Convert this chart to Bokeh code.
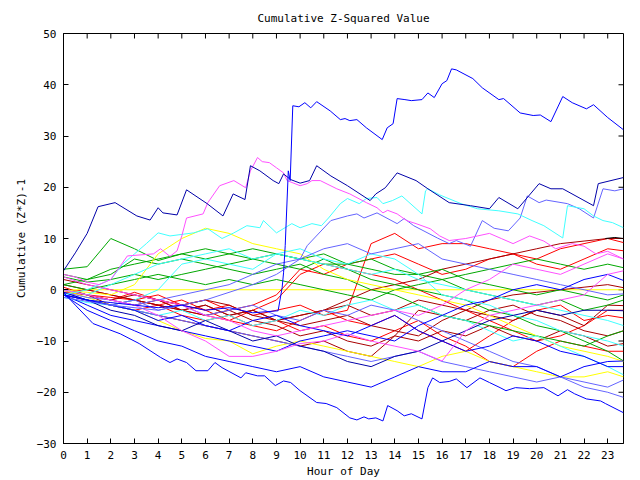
from bokeh.plotting import figure
from bokeh.models import Range1d, FixedTicker, LinearAxis
from bokeh.embed import file_html
from bokeh.resources import INLINE

TITLE = "Cumulative Z-Squared Value"
XLABEL = "Hour of Day"
YLABEL = "Cumulative (Z*Z)-1"
x_ticks = list(range(0, 24))
y_ticks = [-30, -20, -10, 0, 10, 20, 30, 40, 50]
X_MAX = 23.667
Y_MIN, Y_MAX = -30, 50

BLUE = "#0000ff"; NAVY = "#0000a8"; SLATE = "#6464ff"; MAG = "#ff50ff"
CYAN = "#40ffff"; GREEN = "#00a800"; YEL = "#ffff00"; RED = "#ff0000"
DRED = "#a80000"; BLACK = "#000000"

H = [0, 1, 2, 3, 4, 5, 6, 7, 8, 9, 10, 11, 12, 13, 14, 15, 16, 17, 18, 19, 20, 21, 22, 23, 23.67]

# big climbing line
a_h = [0, 1, 2, 3, 4, 5, 6, 7, 8, 9.07, 9.24, 9.3, 9.37, 9.5, 9.58, 9.69, 9.95, 10.2, 10.45, 10.7, 11.27, 11.7,
       11.9, 12.1, 12.4, 12.8, 13.47, 13.68, 13.93, 14.1, 14.43, 14.7, 15.15, 15.4, 15.67, 16.0, 16.2, 16.4, 16.6,
       17.3, 17.7, 18.4, 18.6, 19.3, 19.85, 20.15, 20.6, 21.1, 21.5, 22.1, 22.4, 23.0, 23.67]
a_v = [-1, -2, -2.5, -3, -3.5, -3, -4, -3.5, -4.5, -4.1, 0.4, 3.3, 8.6, 23.2, 21.3, 35.9, 35.7, 36.5, 35.5, 36.7, 34.9,
       33.2, 33.4, 33, 33.2, 31.6, 29.3, 31.6, 32.4, 37.3, 37.1, 36.9, 37.1, 38.4, 37.5, 40.2, 40.8, 43.1, 42.9,
       41.2, 39.4, 37.1, 37.3, 34.5, 34, 34.1, 32.8, 37.7, 36.5, 35.3, 36.1, 33.6, 31.2]

b_h = [0, 0.5, 1, 1.46, 2.18, 3.1, 3.66, 4.0, 4.2, 4.8, 5.2, 6.07, 6.74, 7.17, 7.67, 7.9, 8.3, 8.86, 9.1, 9.3, 9.6,
       10.0, 10.4, 10.7, 11.3, 12, 12.96, 13.2, 13.6, 14.1, 14.9, 15.4, 16.3, 17.2, 18, 18.4, 19.2, 20.1, 20.6, 21.1,
       22.4, 22.6, 23.67]
b_v = [3.7, 7.2, 11, 16.2, 17, 14.4, 13.6, 16, 15, 14.6, 19.5, 16.8, 14.4, 18.7, 17.6, 24.2, 23.2, 21.3, 20.7, 22.6,
       21.5, 20.8, 21.3, 24.2, 22.2, 20.3, 17.4, 18.7, 19.9, 22.8, 21.3, 19.7, 17, 16.4, 15.8, 18, 15.8, 20.7, 19.7,
       19.7, 16.4, 20.7, 21.9]

m1_h = [0, 0.5, 1, 1.5, 2, 2.7, 3.8, 4.1, 4.5, 4.8, 5.0, 5.2, 5.9, 6.1, 6.6, 7.2, 7.7, 7.9, 8.2, 8.4, 8.7, 9.0, 9.3,
        9.45, 10.0, 10.3, 10.5, 10.85, 11.55, 12.1, 12.8, 13.25, 13.5, 13.7, 14.1, 14.5, 14.9, 15.5, 15.9, 16.3, 17,
        18, 18.5, 19, 19.7, 20.3, 20.8, 21.5, 22, 22.5, 23, 23.67]
m1_v = [3, 2.5, 1.5, 1, 2, 6.6, 7, 8, 6.5, 7.6, 10.5, 14, 14.8, 17, 20.3, 21.3, 19.9, 23.2, 25.8, 25, 24.8, 23.8, 22.8,
        21.3, 20.3, 20.7, 21.3, 21.3, 19.7, 18.7, 17, 16, 15, 15.5, 14.8, 13.5, 12.9, 11.9, 10.5, 9.6, 10, 11, 10,
        9, 10.5, 9.5, 8, 9, 8.5, 7, 7.5, 6]

c1_h = [0, 1, 2, 2.5, 3.0, 3.5, 4.0, 4.5, 5.5, 6.1, 6.7, 7.2, 7.75, 8.3, 8.45, 9.0, 9.65, 10, 10.5, 10.9, 11.2, 11.7,
        12.0, 12.5, 12.8, 13.25, 13.5, 13.9, 14.3, 15.15, 15.3, 15.4, 15.9, 16.8, 17.5, 18.4, 19.2, 19.8, 20.3, 21.1,
        21.3, 22.0, 22.4, 22.8, 23.2, 23.67]
c1_v = [-1, 0, 2, 5, 7, 9, 11.1, 10.5, 11.1, 11.9, 10, 11.1, 12.5, 12.1, 13.5, 11.1, 12.9, 12.1, 12.9, 12.5, 14, 16.8,
        17.8, 16.8, 17.8, 18, 16.8, 17.4, 18.3, 14.8, 19.3, 19.7, 18.5, 16.8, 15.8, 15.4, 14.8, 13.5, 12.5, 10.1,
        16.4, 15.8, 14.4, 13.5, 13.1, 12.1]

s1_h = [0, 2, 4, 6, 8, 9, 10, 10.3, 11.3, 12.0, 12.4, 12.7, 13.25, 14.1, 14.4, 14.8, 15.8, 16.3, 16.6, 17.2, 17.7,
        18.2, 18.8, 19.3, 19.6, 20.1, 20.4, 21.3, 21.8, 22.4, 22.8, 23.3, 23.67]
s1_v = [-1.5, -3, -4, -2, 1, 3, 6, 8.6, 13.5, 14.4, 14.8, 14, 15, 12.9, 13.9, 12.5, 10.1, 9, 9.6, 8.5, 13.5, 12, 11.5,
        14, 18.3, 17, 17.5, 16.8, 15.8, 14, 19.7, 19.3, 19.7]

l1_h = [0, 0.5, 1.25, 2.4, 3.2, 4.1, 4.5, 4.8, 5.2, 5.6, 6.1, 6.4, 6.7, 7.5, 7.7, 8.2, 8.5, 8.95, 9.3, 9.6, 10.0, 10.7,
        11.1, 11.55, 12.1, 12.4, 12.7, 12.9, 13.2, 13.5, 13.7, 14.1, 14.4, 14.7, 15.15, 15.4, 15.6, 15.9, 16.3, 16.6,
        17.05, 17.6, 18.0, 18.45, 18.7, 19.1, 19.7, 20.3, 20.9, 21.3, 21.6, 22.1, 22.7, 22.9, 23.67]
l1_v = [-0.5, -3, -6.6, -8.6, -10.5, -13.2, -14.2, -13.5, -14.2, -15.8, -15.8, -14.2, -15.2, -17.2, -16.2, -16.8,
        -16.8, -18.7, -17.8, -18.1, -19.7, -22, -22.2, -23, -25, -25.4, -24.8, -25.2, -25, -25.6, -22.6, -23.6, -24.6,
        -24.2, -25.2, -19.1, -17.2, -18.1, -17.9, -17.4, -19.1, -17.2, -18.1, -19.1, -19.7, -19.1, -19.3, -19.1, -20.7,
        -19.5, -20.3, -21.3, -21.7, -22.2, -24]

# middle bundle, hourly values at H
r_a = [-0.5, -1, -1.5, -2, -1, -3, -4, -3, -5, -4, -3, -5, -4, 9, 11, 8, 9, 9, 8, 7, 6, 8, 9, 10, 9.2]
r_b = [0, -1, -2, -0.5, -2, -3, -2, -4, -3, -1, 4, 3, 5, 6, 7, 5, 3, 4, 6, 7, 5, 4, 6, 8, 7.6]
r_c = [-1, -2, -3, -4, -3, -5, -6, -5, -7, -8, -6, -4, -6, -7, -5, -8, -10, -12, -9, -6, -4, -3, -6, -5, -5.5]
r_d = [-0.5, 0, -1, -2, -3, -2, -4, -6, -7, -6, -8, -7, -9, -10, -8, -6, -9, -11, -14, -15, -12, -10, -11, -12, -12]
r_e = [0.5, -1, -2, -3, -2, -4, -5, -6, -4, -2, 3, 5, 4, 3, 2, 0, -2, -4, -6, -8, -10, -9, -7, -4, -4]
dr_a = [2, 1, 0, -1, -2, -3, -2, -3, -5, -6, -7, -6, -5, -7, -8, -9, -6, -4, -2, -1, -0.5, 0, 0.5, 1, 0.4]
dr_b = [1, 0, -1, -2, -3, -4, -5, -4, -6, -7, -9, -8, -10, -11, -9, -10, -8, -9, -7, -9, -10, -8, -9, -11, -10.5]
dr_c = [0, -1, -2, -1, -2, -4, -3, -5, -4, -6, -5, -4, -3, -5, -4, -2, -3, -4, -5, -6, -4, -5, -7, -3, -3.1]
dr_d = [0, -1, -3, -4, -5, -6, -7, -8, -9, -10, -11, -10, -12, -13, -9, -4, -5, -6, -4, -3, -5, -6, -8, -9, -8]
dr_e = [-1, -2, -3, -2, -3, -4, -3, -5, -4, -6, -5, -4, -2, 0, 1, 2, 4, 5, 6, 7, 8, 9, 9.5, 10, 10]
g_a = [4, 4.5, 10, 8, 5.7, 7, 8, 7, 6, 7, 6, 5, 5, 4, 3, 3, 2, 0, -1, -2, -3, -2, -4, -3, -2]
g_b = [2.5, 1.5, 2, 3, 2, 3, 4, 5, 6, 5, 4, 6, 4, 2, 1, 0, -1, -2, -4, -5, -7, -8, -10, -12, -13.9]
g_c = [1, 0, 1, 2, 3, 2, 1, 2, 1, 2, 1, 0, -1, -2, 0, 1, 2, 3, 4, 5, 6, 5, 4, 5, 4.3]
g_d = [3, 2, 3, 6, 5, 6, 5, 4, 3, 4, 5, 3, 2, 0, -1, -3, -5, -6, -7, -8, -9, -10, -11, -9, -8]
g_e = [1, 2, 4, 5, 6, 7, 6, 7, 8, 7, 6, 7, 5, 6, 4, 3, 4, 2, 1, 0, -1, 0, -1, -2, -1]
y_a = [0, -0.5, -1, 1, 7, 10, 12, 11, 9, 8, 7, 4, 2, 1, 0, -1, -2, -3, -5, -7, -9, -11, -12, -13, -14]
y_b = [0, -1.5, -3, -4, -6, -8, -9.5, -10, -12.5, -11, -10, -11, -12, -13, -14, -15, -13, -12, -14, -15, -16, -17, -17, -16, -17]
c_a = [-1, -2, -3, -4, -5, -4, -6, -5, -7, -6, -4, -5, -3, -2, -4, -3, -5, -6, -8, -10, -9, -11, -13, -15, -16.6]
c_b = [-1.5, -2.5, -3, -2, 0, 5, 6, 5, 4, 7, 8, 6, 5, 7, 6, 3, -1, -2, -3, -5, -6, -8, -9, -10, -11]
c_c = [0, -1, 1, 3, 5, 6, 7, 8, 6, 7, 6, 5, 4, 3, 4, 2, 1, 0, -1, -2, -3, -4, -5, -6, -7]
s_a = [-1, -2, -3, -2, -4, -3, -5, -4, -3, -5, -6, -4, -5, -3, -4, -6, -8, -10, -12, -14, -15, -17, -18, -19, -17.6]
s_b = [-0.5, -1.5, -2, -3, -2, -1, 0, 1, 3, 5, 6, 8, 9, 7, 8, 9, 6, 5, 4, 3, 2, 1, 0, -1, -0.8]
s_c = [-0.5, -2, -3, -4, -5, -6, -7, -8, -9, -10, -11, -12, -13, -14, -13, -12, -14, -15, -16, -17, -18, -17, -19, -20, -21]
bl_a = [-1, -3, -5, -6, -7, -8, -9, -10, -11, -12, -10, -9, -8, -9, -10, -7, -5, -3, -2, 0, 1, 0, 2, 3, 1.8]
bl_b = [-1, -4, -6, -8, -10, -11, -13, -14, -15, -16, -15, -17, -18, -19, -17, -15, -16, -16, -14, -15, -15, -17, -15, -14, -13.9]
bl_c = [-0.5, -2, -4, -5, -7, -8, -6, -8, -10, -9, -11, -12, -14, -15, -13, -12, -10, -8, -6, -5, -4, -5, -4, -4, -4.1]
bl_d = [-1, -2, -3, -4, -6, -5, -7, -8, -6, -5, -7, -8, -9, -7, -5, -8, -10, -12, -11, -9, -10, -12, -13, -15, -15]
m_b = [0, -1, -2, -3, -5, -8, -10, -13, -13, -12, -10.5, -10, -8.6, -10, -11, -12, -13.9, -8, -5, -4, -3, -2, -1, 3, 3.7]
m_c = [2.5, 1, 0, -1, -2, -3, -5, -6, -8, -9, -8, -7, -6, -5, -4, -5, -3, 0, 2, 5, 4, 3, 5, 7, 6]
k_h = [22.9, 23.3, 23.67]
k_v = [10, 10.2, 10]

series = [
    (RED, H, r_a), (RED, H, r_b), (RED, H, r_c), (RED, H, r_d), (RED, H, r_e),
    (DRED, H, dr_a), (DRED, H, dr_b), (DRED, H, dr_c), (DRED, H, dr_d), (DRED, H, dr_e),
    (GREEN, H, g_a), (GREEN, H, g_b), (GREEN, H, g_c), (GREEN, H, g_d), (GREEN, H, g_e),
    (YEL, H, y_a), (YEL, H, y_b),
    (CYAN, H, c_a), (CYAN, H, c_b), (CYAN, H, c_c),
    (SLATE, H, s_a), (SLATE, H, s_b), (SLATE, H, s_c),
    (BLUE, H, bl_a), (BLUE, H, bl_b), (NAVY, H, bl_c), (BLUE, H, bl_d),
    (MAG, H, m_b), (MAG, H, m_c), (BLACK, k_h, k_v),
    (SLATE, s1_h, s1_v), (CYAN, c1_h, c1_v), (MAG, m1_h, m1_v),
    (NAVY, b_h, b_v), (BLUE, l1_h, l1_v), (BLUE, a_h, a_v),
]

FONT = "DejaVu Sans Mono"
FS = "11px"

p = figure(width=640, height=480, x_range=Range1d(0, X_MAX), y_range=Range1d(Y_MIN, Y_MAX),
           output_backend="svg", toolbar_location=None,
           min_border_left=63, min_border_right=17, min_border_top=33, min_border_bottom=37,
           x_axis_type=None, y_axis_type=None)
p.background_fill_color = "white"
p.border_fill_color = "white"
p.outline_line_color = "black"
p.outline_line_width = 1
p.grid.visible = False

p.title.text = TITLE
p.title.align = "center"
p.title.text_font = FONT
p.title.text_font_size = FS
p.title.text_font_style = "normal"
p.title.text_color = "black"
p.title.standoff = 17


def mk_axis(ticks, label):
    ax = LinearAxis(ticker=FixedTicker(ticks=ticks), axis_label=label)
    ax.major_tick_in = 5
    ax.major_tick_out = 0
    ax.minor_tick_line_color = None
    ax.axis_line_color = "black"
    ax.major_tick_line_color = "black"
    ax.major_label_text_font = FONT
    ax.major_label_text_font_size = FS
    ax.major_label_text_color = "black"
    ax.major_label_standoff = 7
    ax.axis_label_text_font = FONT
    ax.axis_label_text_font_size = FS
    ax.axis_label_text_font_style = "normal"
    ax.axis_label_text_color = "black"
    return ax


xa = mk_axis(x_ticks, XLABEL)
xa.axis_label_standoff = 3
p.add_layout(xa, "below")
ya = mk_axis(y_ticks, YLABEL)
ya.axis_label_standoff = 6
p.add_layout(ya, "left")

# mirrored inward ticks on the top and right edges
tick_len_y = 5 * (Y_MAX - Y_MIN) / 410.0
tick_len_x = 5 * X_MAX / 560.0
p.segment(x0=x_ticks, y0=[Y_MAX] * len(x_ticks), x1=x_ticks, y1=[Y_MAX - tick_len_y] * len(x_ticks),
          line_color="black", line_width=1)
p.segment(x0=[X_MAX] * len(y_ticks), y0=y_ticks, x1=[X_MAX - tick_len_x] * len(y_ticks), y1=y_ticks,
          line_color="black", line_width=1)

# horizontal zero reference
p.line([0, X_MAX], [0, 0], line_color=YEL, line_width=1)

for col, xs, ys in series:
    p.line(xs, ys, line_color=col, line_width=1)

open("out.html", "w").write(file_html(p, INLINE))
